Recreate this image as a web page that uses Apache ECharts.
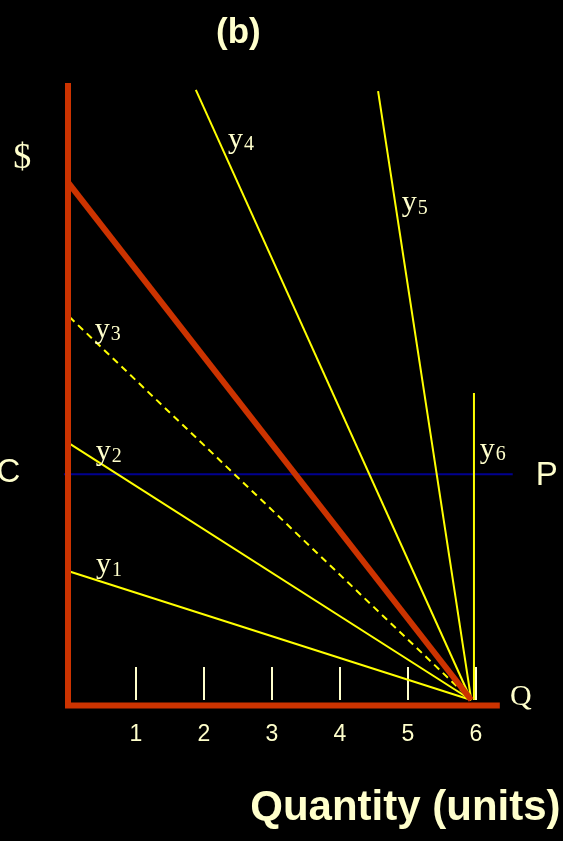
<!DOCTYPE html>
<html><head><meta charset="utf-8">
<script src="https://cdn.jsdelivr.net/npm/echarts@6/dist/echarts.min.js"></script>
<style>html,body{margin:0;padding:0;background:#000;}#c{width:563px;height:841px;}</style>
</head><body><div id="c"></div>
<script>
// ---- data (x in units of quantity, y in $ units) ----
const xTickValues = [1, 2, 3, 4, 5, 6];
const meetPoint = [5.93, 0];
const totalLine = [[0, 8.35], meetPoint];
const y1Line = [[0, 2.08], meetPoint];
const y2Line = [[0, 4.15], meetPoint];
const y3Line = [[0.02, 6.18], meetPoint];
const y4Line = [[1.88, 9.84], meetPoint];
const y5Line = [[4.56, 9.82], meetPoint];
const y6Line = [[5.97, 4.95], [5.97, 0]];
const priceLine = [[-0.06, 3.64], [6.54, 3.64]];
const dollarAxis = [[0, 9.95], [0, -0.13]];
const quantityAxis = [[-0.044, -0.089], [6.35, -0.089]];
const lineLabelNames = ['y1', 'y2', 'y3', 'y4', 'y5', 'y6'];
const lineLabelPos = [[0.603, 2.17], [0.599, 4.0], [0.584, 5.97], [2.544, 9.03], [5.099, 8.01], [6.246, 4.03]];
const axisLetters = ['$', 'C', 'P', 'Q'];
const axisLetterPos = [[-0.672, 8.726], [-0.875, 3.655], [7.04, 3.62], [6.66, 0.048]];

const cream = '#FFFFCC';
const red = '#CC3300';
const yellow = '#FFFF00';
const serif = 'Liberation Serif, Times New Roman, serif';
const sans = 'Liberation Sans, Arial, sans-serif';

function seg(data, color, width, type, z) {
  return { type: 'line', data: data, symbol: 'none', clip: false, silent: true, z: z || 2,
    lineStyle: { color: color, width: width, type: type || 'solid' } };
}

const letterStyles = [
  { fontFamily: serif, fontSize: 36 },
  { fontFamily: sans, fontSize: 33 },
  { fontFamily: sans, fontSize: 33 },
  { fontFamily: serif, fontSize: 30 }
];

const chart = echarts.init(document.getElementById('c'), null, { renderer: 'canvas' });
chart.setOption({
  backgroundColor: '#000',
  animation: false,
  grid: { left: 61.2, right: 39.4, top: 80, bottom: 133.9, outerBoundsMode: 'none', containLabel: false },
  xAxis: {
    type: 'value', min: -0.1, max: 6.7,
    axisLine: { show: false }, splitLine: { show: false },
    axisTick: { show: true, inside: true, length: 33, customValues: xTickValues, lineStyle: { color: cream, width: 2 } },
    axisLabel: { show: true, customValues: xTickValues, margin: 16, color: cream, fontFamily: sans, fontSize: 23 }
  },
  yAxis: { type: 'value', min: -0.115, max: 10, show: false },
  graphic: [
    { type: 'text', x: 238.4, y: 33, style: { text: '(b)', font: 'bold 35px ' + sans, fill: cream, align: 'center', verticalAlign: 'middle' } },
    { type: 'text', x: 405.4, y: 808, style: { text: 'Quantity (units)', font: 'bold 42px ' + sans, fill: cream, align: 'center', verticalAlign: 'middle' } }
  ],
  series: [
    seg(priceLine, '#000090', 2, 'solid', 1),
    seg(y1Line, yellow, 2),
    seg(y2Line, yellow, 2),
    seg(y3Line, yellow, 2, [7, 5]),
    seg(y4Line, yellow, 2),
    seg(y5Line, yellow, 2),
    seg(y6Line, yellow, 2),
    seg(totalLine, red, 6, 'solid', 3),
    seg(dollarAxis, red, 6, 'solid', 4),
    seg(quantityAxis, red, 6, 'solid', 4),
    {
      type: 'scatter', clip: false, silent: true, symbolSize: 0.1, itemStyle: { color: 'transparent', opacity: 1 }, z: 5,
      data: lineLabelNames.map((n, i) => ({ name: n, value: lineLabelPos[i] })),
      label: {
        show: true, position: 'inside',
        formatter: p => '{a|' + p.name.charAt(0) + '}{s|' + p.name.slice(1) + '}',
        rich: {
          a: { fontFamily: serif, fontSize: 30, lineHeight: 30, verticalAlign: 'top', color: cream },
          s: { fontFamily: serif, fontSize: 20, lineHeight: 20, verticalAlign: 'bottom', padding: [18, 0, 0, 1], color: cream }
        }
      }
    },
    {
      type: 'scatter', clip: false, silent: true, symbolSize: 0.1, itemStyle: { color: 'transparent', opacity: 1 }, z: 5,
      data: axisLetters.map((n, i) => ({
        name: n, value: axisLetterPos[i],
        label: Object.assign({ show: true, position: 'inside', formatter: '{b}', color: cream }, letterStyles[i])
      })),
      label: { show: true, position: 'inside', formatter: '{b}', color: cream }
    }
  ]
});
</script>
</body></html>
